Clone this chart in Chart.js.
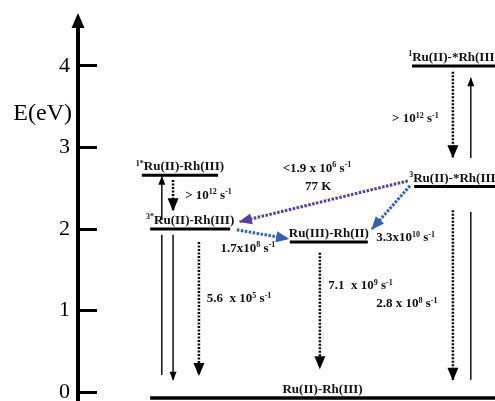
<!doctype html>
<html lang="en">
<head>
<meta charset="utf-8">
<title>Ru(II)-Rh(III) excited-state energy levels</title>
<script src="https://cdn.jsdelivr.net/npm/chart.js"></script>
<style>
  html, body { margin: 0; padding: 0; background: #fff; }
  .wrap { width: 495px; height: 401px; position: relative; }
</style>
</head>
<body>
<div class="wrap"><canvas id="levels"></canvas></div>
<script>
// energy axis (eV)
const yTicks = [0, 1, 2, 3, 4];

// states and their energies (eV)
const stateNames = ['^{1}Ru(II)-*Rh(III)', '^{1*}Ru(II)-Rh(III)', '^{3}Ru(II)-*Rh(III)', '^{3*}Ru(II)-Rh(III)', 'Ru(III)-Rh(II)', 'Ru(II)-Rh(III)'];
const stateEnergy = [4.00, 2.66, 2.52, 2.00, 1.84, -0.075];

// vertical transitions: start / end energy (eV), kind
const jumpFrom = [0.21, 2.11, 1.93, 2.60, 1.84, 1.71, 3.93, 0.15, 2.87, 2.23];
const jumpTo   = [1.93, 2.64, 0.15, 2.23, 0.21, 0.29, 2.88, 2.21, 3.85, 0.15];
const jumpKind = ['line', 'abs', 'abs', 'nr', 'nr', 'nr', 'nr', 'line', 'abs', 'nr'];

// electron / energy transfer steps: start / end energy (eV)
const transferFrom = [2.59, 1.99, 2.53];
const transferTo   = [2.09, 1.88, 2.00];

// rate constants
const rateText = ['> 10^{12} s^{-1}', '<1.9 x 10^{6} s^{-1}', '77 K', '> 10^{12} s^{-1}', '1.7x10^{8} s^{-1}',
  '3.3x10^{10} s^{-1}', '5.6  x 10^{5} s^{-1}', '7.1  x 10^{9} s^{-1}', '2.8 x 10^{8} s^{-1}'];

// ---- layout (horizontal diagram units 0..100) ----
const stateSpan = [[80.1, 100], [15.3, 33.6], [80.6, 100], [17.3, 36.5], [50.8, 69.5], [17.3, 100]];
const jumpCol = [20.1, 20.1, 22.8, 22.8, 29.0, 58.0, 89.9, 94.2, 94.2, 89.9];
const transferCol = [[79.1, 38.8], [38.1, 50.4], [79.6, 70.5]];
const transferColor = ['#583e9e', '#3262b6', '#3262b6'];
const rateAt = [[25.7, 2.37, 'left'], [57.3, 2.70, 'center'], [57.6, 2.48, 'center'], [75.3, 3.31, 'left'],
  [34.2, 1.72, 'left'], [71.5, 1.85, 'left'], [30.9, 1.10, 'left'], [60.0, 1.26, 'left'], [71.5, 1.04, 'left']];

const SERIF = '"Liberation Serif", "Times New Roman", serif';

const datasets = [];
stateEnergy.forEach((e, i) => {
  datasets.push({
    data: [{x: stateSpan[i][0], y: e}, {x: stateSpan[i][1], y: e}],
    borderColor: '#000', borderWidth: i === 5 ? 3.5 : 3
  });
});
jumpFrom.forEach((e, i) => {
  const dotted = jumpKind[i] === 'nr';
  datasets.push({
    data: [{x: jumpCol[i], y: e}, {x: jumpCol[i], y: jumpTo[i]}],
    borderColor: '#000',
    borderWidth: dotted ? 2.5 : 1.4,
    borderDash: dotted ? [2, 1.5] : [],
    head: jumpKind[i] === 'line' ? null : (dotted ? 'big' : 'small')
  });
});
transferFrom.forEach((e, i) => {
  datasets.push({
    data: [{x: transferCol[i][0], y: e}, {x: transferCol[i][1], y: transferTo[i]}],
    borderColor: transferColor[i], borderWidth: 3, borderDash: [2.5, 1.5], head: 'big'
  });
});

// text with ^{...} superscripts
function richText(ctx, str, px, py, size, align, weight) {
  const parts = str.split(/(\^\{[^}]*\})/).filter(Boolean)
    .map(s => s.startsWith('^{') ? {t: s.slice(2, -1), sup: true} : {t: s, sup: false});
  const supSize = Math.round(size * 0.64);
  const font = s => (weight || 'normal') + ' ' + s + 'px ' + SERIF;
  let w = 0;
  parts.forEach(p => {
    ctx.font = font(p.sup ? supSize : size);
    p.w = ctx.measureText(p.t).width;
    w += p.w;
  });
  let cx = align === 'center' ? px - w / 2 : (align === 'right' ? px - w : px);
  ctx.textAlign = 'left';
  ctx.textBaseline = 'alphabetic';
  parts.forEach(p => {
    ctx.font = font(p.sup ? supSize : size);
    ctx.fillText(p.t, cx, p.sup ? py - size * 0.36 : py);
    cx += p.w;
  });
}

const decorations = {
  id: 'decorations',
  afterDatasetsDraw(chart) {
    const {ctx} = chart;
    chart.data.datasets.forEach((ds, i) => {
      if (!ds.head) return;
      const pts = chart.getDatasetMeta(i).data;
      const a = pts[pts.length - 2], b = pts[pts.length - 1];
      const ang = Math.atan2(b.y - a.y, b.x - a.x);
      const len = ds.head === 'big' ? 12 : 8;
      const half = ds.head === 'big' ? 5.5 : 3.5;
      ctx.save();
      ctx.translate(b.x, b.y);
      ctx.rotate(ang);
      ctx.beginPath();
      ctx.moveTo(1, 0);
      ctx.lineTo(-len, -half);
      ctx.lineTo(-len, half);
      ctx.closePath();
      ctx.fillStyle = ds.borderColor;
      ctx.fill();
      ctx.restore();
    });
  },
  afterDraw(chart) {
    const {ctx, chartArea} = chart;
    const x = chart.scales.x, y = chart.scales.y;
    ctx.save();
    // axis arrowhead
    ctx.fillStyle = '#000';
    ctx.beginPath();
    ctx.moveTo(y.right, chartArea.top - 7);
    ctx.lineTo(y.right - 6.5, chartArea.top + 8);
    ctx.lineTo(y.right + 6.5, chartArea.top + 8);
    ctx.closePath();
    ctx.fill();
    // axis title
    ctx.font = '24px ' + SERIF;
    ctx.textAlign = 'right';
    ctx.textBaseline = 'middle';
    ctx.fillText('E(eV)', y.right - 6, y.getPixelForValue(3.42));
    // state labels above each level
    ctx.fillStyle = '#111';
    stateNames.forEach((name, i) => {
      const cx = (x.getPixelForValue(stateSpan[i][0]) + x.getPixelForValue(stateSpan[i][1])) / 2;
      richText(ctx, name, cx, y.getPixelForValue(stateEnergy[i]) - 5, 13, 'center', 'bold');
    });
    // rate constants
    rateText.forEach((t, i) => {
      const [u, e, align] = rateAt[i];
      richText(ctx, t, x.getPixelForValue(u), y.getPixelForValue(e), 13, align, 'bold');
    });
    ctx.restore();
  }
};

new Chart(document.getElementById('levels'), {
  type: 'line',
  data: {datasets},
  options: {
    responsive: true,
    maintainAspectRatio: false,
    animation: false,
    devicePixelRatio: 1,
    layout: {padding: {top: 20, left: 0, right: 0, bottom: 0}},
    elements: {
      point: {radius: 0, hoverRadius: 0},
      line: {tension: 0, fill: false, borderCapStyle: 'butt'}
    },
    plugins: {legend: {display: false}, tooltip: {enabled: false}},
    events: [],
    scales: {
      x: {type: 'linear', min: 0, max: 100, display: false},
      y: {
        type: 'linear',
        min: -0.1104,
        max: 4.5644,
        afterBuildTicks: scale => { scale.ticks = yTicks.map(v => ({value: v})); },
        afterFit: scale => { scale.width = 78; scale.paddingTop = 0; scale.paddingBottom = 0; },
        border: {display: true, color: '#000', width: 4},
        grid: {drawOnChartArea: false, drawTicks: true, tickLength: -19, color: '#000', lineWidth: 3},
        ticks: {color: '#000', padding: 27, font: {family: SERIF, size: 22}}
      }
    }
  },
  plugins: [decorations]
});
</script>
</body>
</html>
